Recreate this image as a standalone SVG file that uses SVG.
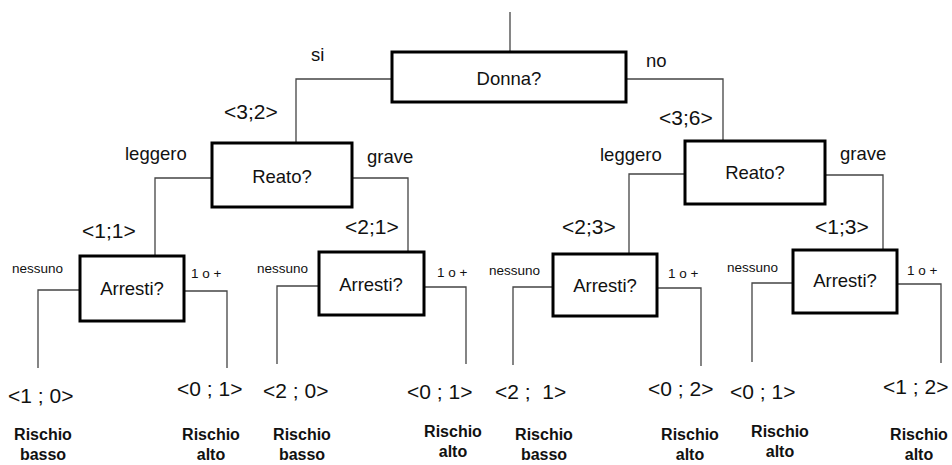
<svg xmlns="http://www.w3.org/2000/svg" width="952" height="465" viewBox="0 0 952 465">
<style>
.box{fill:#fff;stroke:#000;stroke-width:3}
.ln{fill:none;stroke:#444;stroke-width:1.3}
text{font-family:"Liberation Sans",Arial,sans-serif;fill:#111}
.q{font-size:18.5px;text-anchor:middle}
.br{font-size:18.5px}
.cnt{font-size:21px}
.sm{font-size:13.5px}
.leaf{font-size:21px;white-space:pre}
.r{font-size:16px;font-weight:bold;text-anchor:middle}
</style>
<rect width="952" height="465" fill="#fff"/>
<g id="connectors">
<path class="ln" d="M510 12V52"/>
<path class="ln" d="M392 79H296V143"/>
<path class="ln" d="M626 79H723V141"/>
<path class="ln" d="M212 178H155V256"/>
<path class="ln" d="M352 178H408V252"/>
<path class="ln" d="M685 174H629V254"/>
<path class="ln" d="M825 175H883V250"/>
<path class="ln" d="M80 290H38V368"/>
<path class="ln" d="M184 291H227V368"/>
<path class="ln" d="M319 286H277V364"/>
<path class="ln" d="M424 287H466V364"/>
<path class="ln" d="M553 287H513V365"/>
<path class="ln" d="M657 288H701V366"/>
<path class="ln" d="M793 283H752V362"/>
<path class="ln" d="M897 284H941V363"/>
</g>
<g id="labels">
<text class="br" x="311" y="61">si</text>
<text class="br" x="646" y="67">no</text>
<text class="cnt" x="224" y="119">&lt;3;2&gt;</text>
<text class="cnt" x="659" y="125">&lt;3;6&gt;</text>
<text class="br" x="125" y="160">leggero</text>
<text class="br" x="367" y="163">grave</text>
<text class="br" x="600" y="161">leggero</text>
<text class="br" x="840" y="160">grave</text>
<text class="cnt" x="82" y="238">&lt;1;1&gt;</text>
<text class="cnt" x="345" y="234">&lt;2;1&gt;</text>
<text class="cnt" x="562" y="234">&lt;2;3&gt;</text>
<text class="cnt" x="815" y="234">&lt;1;3&gt;</text>
<text class="sm" x="12" y="273">nessuno</text>
<text class="sm" x="191" y="278">1 o +</text>
<text class="sm" x="257" y="273">nessuno</text>
<text class="sm" x="437" y="277">1 o +</text>
<text class="sm" x="489" y="275">nessuno</text>
<text class="sm" x="668" y="278">1 o +</text>
<text class="sm" x="727" y="272">nessuno</text>
<text class="sm" x="907" y="275">1 o +</text>
</g>
<g id="n-donna"><rect class="box" x="392" y="52" width="234" height="50"/><text class="q" x="509" y="85">Donna?</text></g>
<g id="n-reato1"><rect class="box" x="212" y="143" width="140" height="64"/><text class="q" x="282" y="183">Reato?</text></g>
<g id="n-reato2"><rect class="box" x="685" y="141" width="140" height="63"/><text class="q" x="755" y="179">Reato?</text></g>
<g id="n-arr1"><rect class="box" x="80" y="256" width="104" height="65"/><text class="q" x="132" y="295">Arresti?</text></g>
<g id="n-arr2"><rect class="box" x="319" y="252" width="105" height="63"/><text class="q" x="371" y="291">Arresti?</text></g>
<g id="n-arr3"><rect class="box" x="553" y="254" width="104" height="62"/><text class="q" x="605" y="292">Arresti?</text></g>
<g id="n-arr4"><rect class="box" x="793" y="250" width="104" height="63"/><text class="q" x="845" y="287">Arresti?</text></g>
<g id="leaf1"><text class="leaf" x="8" y="403">&lt;1 ; 0&gt;</text><text class="r" x="43" y="440">Rischio</text><text class="r" x="43" y="460">basso</text></g>
<g id="leaf2"><text class="leaf" x="177" y="396">&lt;0 ; 1&gt;</text><text class="r" x="211" y="440">Rischio</text><text class="r" x="211" y="460">alto</text></g>
<g id="leaf3"><text class="leaf" x="263" y="398">&lt;2 ; 0&gt;</text><text class="r" x="302" y="440">Rischio</text><text class="r" x="302" y="460">basso</text></g>
<g id="leaf4"><text class="leaf" x="407" y="399">&lt;0 ; 1&gt;</text><text class="r" x="453" y="437">Rischio</text><text class="r" x="453" y="457">alto</text></g>
<g id="leaf5"><text class="leaf" x="495" y="399">&lt;2 ;  1&gt;</text><text class="r" x="544" y="440">Rischio</text><text class="r" x="544" y="460">basso</text></g>
<g id="leaf6"><text class="leaf" x="648" y="396">&lt;0 ; 2&gt;</text><text class="r" x="690" y="440">Rischio</text><text class="r" x="690" y="460">alto</text></g>
<g id="leaf7"><text class="leaf" x="730" y="399">&lt;0 ; 1&gt;</text><text class="r" x="780" y="437">Rischio</text><text class="r" x="780" y="457">alto</text></g>
<g id="leaf8"><text class="leaf" x="883" y="394">&lt;1 ; 2&gt;</text><text class="r" x="919" y="440">Rischio</text><text class="r" x="919" y="460">alto</text></g>
</svg>
